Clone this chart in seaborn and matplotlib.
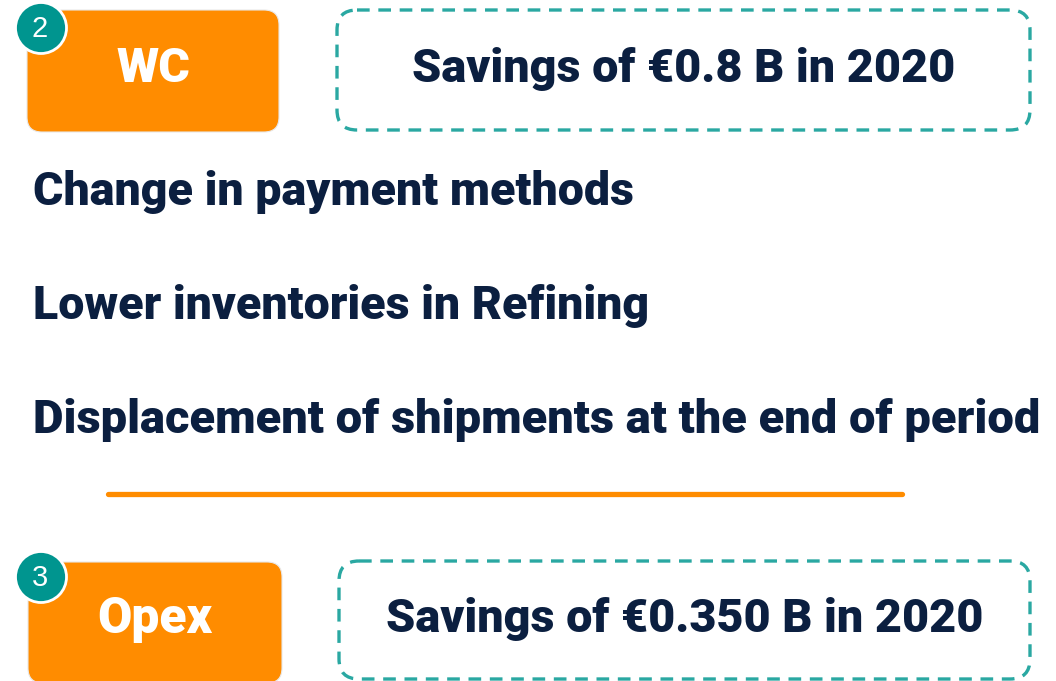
import matplotlib
matplotlib.use("Agg")
import matplotlib.pyplot as plt
from matplotlib.patches import FancyBboxPatch, Circle
import seaborn as sns

# ---- content ----
badge_numbers = ["2", "3"]
category_labels = ["WC", "Opex"]
savings_texts = ["Savings of \u20ac0.8 B in 2020", "Savings of \u20ac0.350 B in 2020"]
wc_drivers = [
    "Change in payment methods",
    "Lower inventories in Refining",
    "Displacement of shipments at the end of period",
]

# ---- style ----
NAVY = "#0B1F40"
ORANGE = "#FF8C00"
TEAL = "#00958F"
DASH = "#2AA8A2"
FONT = ["Roboto", "DejaVu Sans"]

sns.set_theme(style="white")
plt.rcParams["font.family"] = FONT

W, H = 1056, 681
fig = plt.figure(figsize=(W / 100, H / 100), dpi=100)
ax = fig.add_axes([0, 0, 1, 1])
ax.set_xlim(0, W)
ax.set_ylim(H, 0)
ax.axis("off")
fig.canvas.draw()
renderer = fig.canvas.get_renderer()


def fitted_text(x, y, s, target_w, ha="left", **kw):
    t = ax.text(x, y, s, ha=ha, va="baseline", fontsize=30, **kw)
    w = t.get_window_extent(renderer).width
    t.set_fontsize(30 * target_w / w)
    return t


def rbox(x0, y0, x1, y1, r, **kw):
    p = FancyBboxPatch((x0, y0), x1 - x0, y1 - y0,
                       boxstyle=f"round,pad=0,rounding_size={r}", **kw)
    ax.add_patch(p)


# section geometry (pixels)
sections = [
    dict(obox=(27, 10, 279, 132), dbox=(337, 10, 1030, 130), badge=(41, 28),
         lab_base=82, lab_w=74, sav_base=82, sav_w=543),
    dict(obox=(28, 562, 282, 683), dbox=(339, 561, 1030, 679), badge=(41, 577),
         lab_base=633, lab_w=115, sav_base=632, sav_w=596),
]

for i, sec in enumerate(sections):
    x0, y0, x1, y1 = sec["obox"]
    rbox(x0, y0, x1, y1, 15, facecolor=ORANGE, edgecolor="#E8E8E8", lw=0.8, zorder=2)
    fitted_text((x0 + x1) / 2, sec["lab_base"], category_labels[i], sec["lab_w"],
                ha="center", color="white", fontweight=900, zorder=4)
    dx0, dy0, dx1, dy1 = sec["dbox"]
    rbox(dx0, dy0, dx1, dy1, 20, facecolor="none", edgecolor=DASH, lw=2.4,
         linestyle=(0, (3.8, 2.6)), zorder=2)
    fitted_text((dx0 + dx1) / 2, sec["sav_base"], savings_texts[i], sec["sav_w"],
                ha="center", color=NAVY, fontweight=900, zorder=4)
    cx, cy = sec["badge"]
    ax.add_patch(Circle((cx, cy), 25.5, facecolor=TEAL, edgecolor="white", lw=2, zorder=5))
    ax.text(cx - 1, cy + 1, badge_numbers[i], ha="center", va="center", color="white",
            fontsize=21, family=["Liberation Sans", "DejaVu Sans"], zorder=6)

# WC drivers
driver_baselines = [205, 319, 433]
driver_widths = [599, 615, 1007]
for txt, yb, w in zip(wc_drivers, driver_baselines, driver_widths):
    fitted_text(33, yb, txt, w, color=NAVY, fontweight=900)

# separator
sns.lineplot(x=[108, 902], y=[494, 494], color=ORANGE, linewidth=3.8, ax=ax)
ax.set_xlim(0, W)
ax.set_ylim(H, 0)
ax.axis("off")

fig.savefig("out.png", dpi=100, facecolor="white")
